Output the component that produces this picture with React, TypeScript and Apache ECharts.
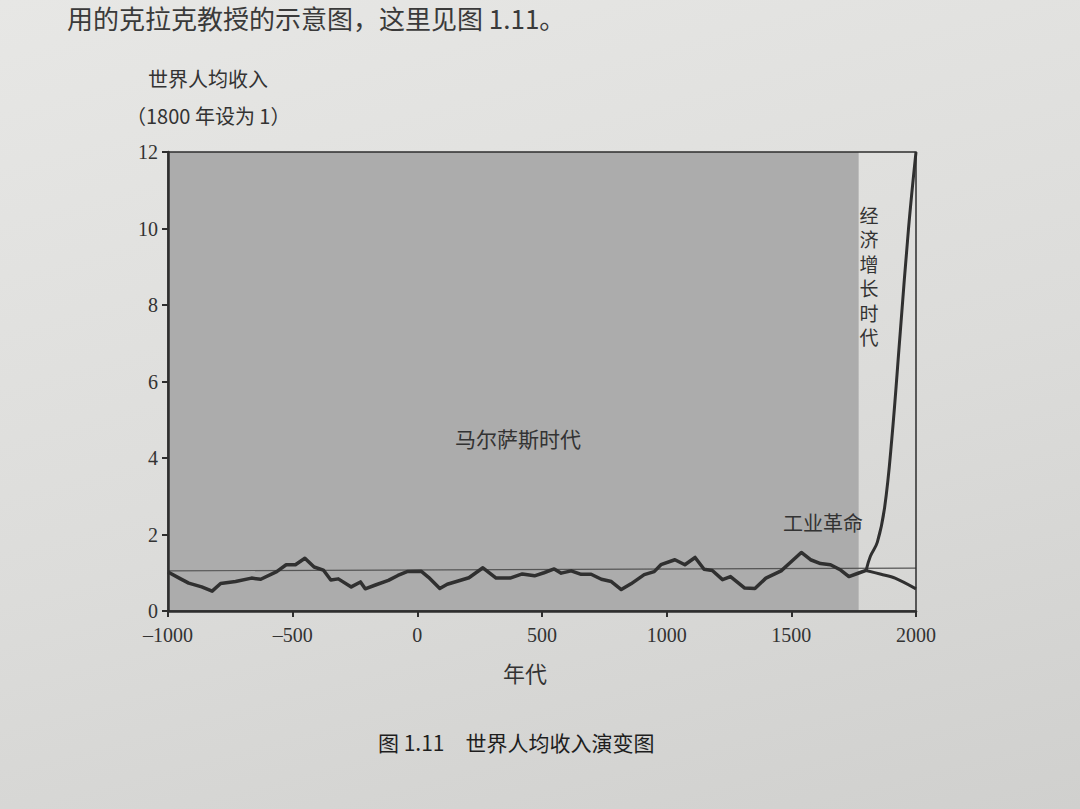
import React, { useEffect, useRef } from 'react';
import * as echarts from 'echarts';

// Malthusian-era world income per person (1800 = 1)
const malthusYears = [
  -1000, -955, -917, -865, -823, -789, -729, -665, -628, -564, -526, -489, -451, -414, -377,
  -347, -317, -265, -228, -209, -168, -116, -78, -41, 15, 45, 90, 120, 157, 207, 263, 316, 372,
  421, 470, 508, 549, 577, 617, 657, 697, 738, 778, 818, 857, 910, 950, 977, 1033, 1073, 1114,
  1150, 1183, 1224, 1256, 1313, 1354, 1398, 1459, 1496, 1540, 1577, 1617, 1657, 1698, 1731,
  1765, 1800,
];
const malthusIncome = [
  1.02, 0.86, 0.73, 0.63, 0.52, 0.72, 0.77, 0.86, 0.83, 1.03, 1.21, 1.21, 1.38, 1.15, 1.07,
  0.81, 0.84, 0.63, 0.76, 0.58, 0.68, 0.8, 0.93, 1.03, 1.04, 0.88, 0.59, 0.7, 0.77, 0.87, 1.13,
  0.86, 0.86, 0.97, 0.92, 1.0, 1.1, 0.99, 1.05, 0.96, 0.96, 0.83, 0.77, 0.56, 0.71, 0.95, 1.03,
  1.21, 1.34, 1.21, 1.4, 1.09, 1.06, 0.82, 0.9, 0.6, 0.59, 0.86, 1.05, 1.27, 1.53, 1.34, 1.24,
  1.21, 1.07, 0.9, 0.98, 1.06,
];
// Branch after the Industrial Revolution: rising branch
const richYears = [1800, 1817, 1845, 1874, 1903, 1937, 1970, 2000];
const richIncome = [1.06, 1.43, 1.8, 2.7, 4.5, 7.3, 10.0, 12.0];
// Branch after the Industrial Revolution: declining branch
const poorYears = [1800, 1860, 1916, 2000];
const poorIncome = [1.06, 0.96, 0.86, 0.58];
// Thin reference line
const refYears = [-1000, 2000];
const refIncome = [1.05, 1.12];
// Eras
const malthusEra = [-1000, 1770];
const growthEraLabel = ['经', '济', '增', '长', '时', '代'];

const xMin = -1000;
const xMax = 2000;
const xStep = 500;
const yMin = 0;
const yMax = 12;
const yStep = 2;

const zip = (xs: number[], ys: number[]) => xs.map((x, i) => [x, ys[i]]);

const CJK = '"Noto Sans CJK SC", "Noto Sans", sans-serif';
const SERIF = '"Liberation Serif", "DejaVu Serif", serif';
const TEXT = '#333333';
const LINE = '#2e2e2e';

export default function App() {
  const ref = useRef<HTMLDivElement>(null);

  useEffect(() => {
    document.body.style.margin = '0';
    document.body.style.overflow = 'hidden';
    if (!ref.current) return;
    const chart = echarts.init(ref.current, undefined, { renderer: 'svg' });

    const verticalChars = growthEraLabel.map((ch, i) => ({
      type: 'text',
      x: 869,
      y: 214 + i * 24.5,
      z: 20,
      style: {
        text: ch,
        font: '19px ' + CJK,
        fill: TEXT,
        align: 'center',
        verticalAlign: 'middle',
      },
    }));

    const option: any = {
      animation: false,
      backgroundColor: 'transparent',
      grid: {
        left: 168,
        right: 164,
        top: 152,
        bottom: 198,
        show: true,
        borderColor: LINE,
        borderWidth: 1.5,
        backgroundColor: 'transparent',
        z: 10,
      },
      xAxis: {
        type: 'value',
        min: xMin,
        max: xMax,
        interval: xStep,
        z: 10,
        splitLine: { show: false },
        axisLine: { show: true, onZero: false, lineStyle: { color: LINE, width: 2.5 } },
        axisTick: { show: true, length: 6, lineStyle: { color: LINE, width: 2 } },
        axisLabel: {
          fontFamily: SERIF,
          fontSize: 20,
          color: TEXT,
          margin: 14,
          formatter: (v: number) => (v < 0 ? '–' + Math.abs(v) : String(v)),
        },
      },
      yAxis: {
        type: 'value',
        min: yMin,
        max: yMax,
        interval: yStep,
        z: 10,
        splitLine: { show: false },
        axisLine: { show: true, onZero: false, lineStyle: { color: LINE, width: 2.5 } },
        axisTick: { show: true, length: 6, lineStyle: { color: LINE, width: 2 } },
        axisLabel: { fontFamily: SERIF, fontSize: 20, color: TEXT, margin: 10 },
      },
      series: [
        {
          name: 'ref',
          type: 'line',
          data: zip(refYears, refIncome),
          symbol: 'none',
          lineStyle: { color: '#555555', width: 1.2 },
          z: 3,
          markArea: {
            silent: true,
            itemStyle: { color: '#acacac' },
            data: [[{ xAxis: malthusEra[0] }, { xAxis: malthusEra[1] }]],
          },
        },
        {
          name: 'malthus',
          type: 'line',
          data: zip(malthusYears, malthusIncome),
          symbol: 'none',
          lineStyle: { color: '#303030', width: 3.5, join: 'round' },
          z: 4,
        },
        {
          name: 'rich',
          type: 'line',
          data: zip(richYears, richIncome),
          symbol: 'none',
          smooth: 0.4,
          lineStyle: { color: '#303030', width: 3 },
          z: 4,
        },
        {
          name: 'poor',
          type: 'line',
          data: zip(poorYears, poorIncome),
          symbol: 'none',
          smooth: 0.3,
          lineStyle: { color: '#303030', width: 3 },
          z: 4,
        },
      ],
      graphic: [
        {
          type: 'text',
          x: 67,
          y: 17,
          style: {
            text: '用的克拉克教授的示意图，这里见图 1.11。',
            font: '26px ' + CJK,
            fill: '#3a3a3a',
            verticalAlign: 'middle',
          },
        },
        {
          type: 'text',
          x: 148,
          y: 78,
          style: {
            text: '世界人均收入',
            font: '20px ' + CJK,
            fill: TEXT,
            verticalAlign: 'middle',
          },
        },
        {
          type: 'text',
          x: 126,
          y: 115,
          style: {
            text: '（1800 年设为 1）',
            font: '20px ' + CJK,
            fill: TEXT,
            verticalAlign: 'middle',
          },
        },
        {
          type: 'text',
          x: 518,
          y: 438,
          z: 20,
          style: {
            text: '马尔萨斯时代',
            font: '21px ' + CJK,
            fill: TEXT,
            align: 'center',
            verticalAlign: 'middle',
          },
        },
        {
          type: 'text',
          x: 823,
          y: 522,
          z: 20,
          style: {
            text: '工业革命',
            font: '20px ' + CJK,
            fill: TEXT,
            align: 'center',
            verticalAlign: 'middle',
          },
        },
        ...verticalChars,
        {
          type: 'text',
          x: 525,
          y: 672,
          style: {
            text: '年代',
            font: '22px ' + CJK,
            fill: TEXT,
            align: 'center',
            verticalAlign: 'middle',
          },
        },
        {
          type: 'text',
          x: 378,
          y: 742,
          style: {
            text: '图 1.11　世界人均收入演变图',
            font: '21px ' + CJK,
            fill: '#1e1e1e',
            verticalAlign: 'middle',
          },
        },
      ],
    };

    chart.setOption(option);
    return () => chart.dispose();
  }, []);

  return (
    <div
      style={{
        width: 1080,
        height: 809,
        background: 'linear-gradient(165deg, #e7e7e5 0%, #dcdcda 55%, #d0d0ce 100%)',
      }}
    >
      <div ref={ref} style={{ width: 1080, height: 809 }} />
    </div>
  );
}
